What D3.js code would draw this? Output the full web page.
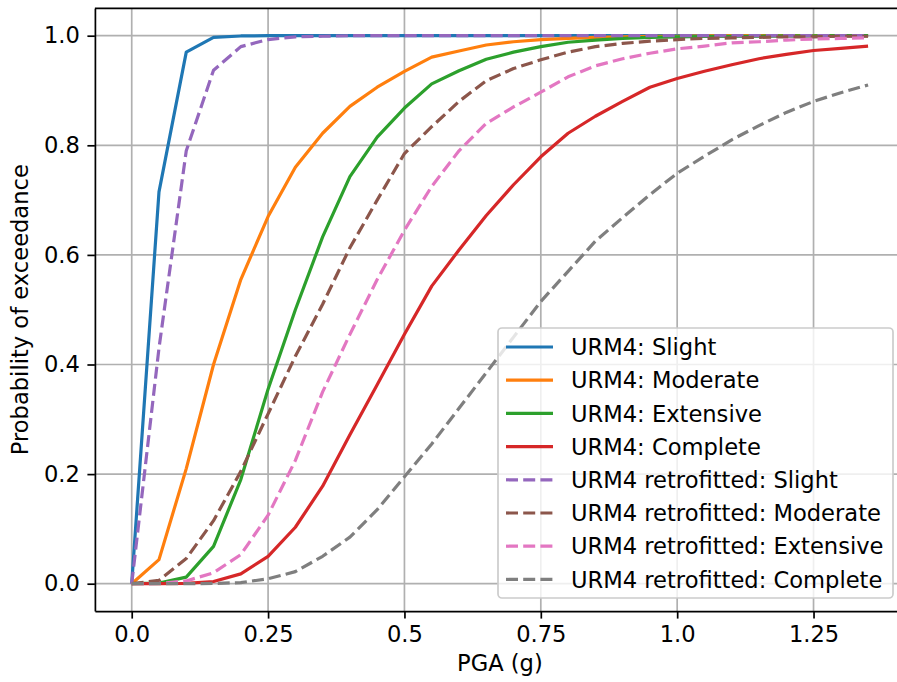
<!DOCTYPE html>
<html>
<head>
<meta charset="utf-8">
<script src="https://cdn.jsdelivr.net/npm/d3@7"></script>
<style>
  body { margin: 0; background: #fff; }
  svg { display: block; font-family: "DejaVu Sans", sans-serif; }
</style>
</head>
<body>
<div id="chart"></div>
<script>
// PGA-Stützstellen (g)
const pga = [0, 0.05, 0.1, 0.15, 0.2, 0.25, 0.3, 0.35, 0.4, 0.45, 0.5, 0.55, 0.6, 0.65,
             0.7, 0.75, 0.8, 0.85, 0.9, 0.95, 1.0, 1.05, 1.1, 1.15, 1.2, 1.25, 1.3, 1.35];

// Kurvenwerte
const urmSlight = [0, 0.715, 0.97, 0.997, 0.9995, 1, 1, 1, 1, 1, 1, 1, 1, 1,
                   1, 1, 1, 1, 1, 1, 1, 1, 1, 1, 1, 1, 1, 1];
const urmModerate = [0, 0.044, 0.21, 0.40, 0.555, 0.67, 0.76, 0.822, 0.871, 0.906, 0.935, 0.961, 0.972, 0.983,
                     0.989, 0.993, 0.995, 0.997, 0.998, 0.999, 0.999, 0.9995, 1, 1, 1, 1, 1, 1];
const urmExtensive = [0, 0.001, 0.012, 0.068, 0.19, 0.355, 0.50, 0.633, 0.743, 0.815, 0.868, 0.912, 0.936, 0.957,
                      0.97, 0.98, 0.988, 0.992, 0.995, 0.997, 0.998, 0.9985, 0.999, 0.999, 0.9995, 0.9995, 1, 1];
const urmComplete = [0, 0, 0.0005, 0.004, 0.018, 0.05, 0.103, 0.178, 0.272, 0.363, 0.455, 0.543, 0.609, 0.672,
                     0.728, 0.779, 0.822, 0.853, 0.88, 0.906, 0.922, 0.935, 0.947, 0.958, 0.966, 0.973, 0.977, 0.981];
const retroSlight = [0, 0.43, 0.79, 0.937, 0.98, 0.993, 0.998, 0.999, 1, 1, 1, 1, 1, 1,
                     1, 1, 1, 1, 1, 1, 1, 1, 1, 1, 1, 1, 1, 1];
const retroModerate = [0, 0.006, 0.046, 0.115, 0.205, 0.31, 0.415, 0.51, 0.613, 0.70, 0.785, 0.834, 0.88, 0.918,
                       0.94, 0.956, 0.97, 0.98, 0.986, 0.99, 0.993, 0.995, 0.996, 0.997, 0.998, 0.998, 0.999, 0.999];
const retroExtensive = [0, 0.0005, 0.005, 0.02, 0.053, 0.125, 0.225, 0.35, 0.455, 0.555, 0.645, 0.725, 0.79, 0.84,
                        0.87, 0.897, 0.925, 0.945, 0.958, 0.968, 0.976, 0.981, 0.987, 0.989, 0.992, 0.994, 0.995, 0.996];
const retroComplete = [0, 0, 0, 0.0005, 0.002, 0.009, 0.022, 0.05, 0.085, 0.135, 0.195, 0.255, 0.32, 0.385,
                       0.45, 0.515, 0.57, 0.625, 0.668, 0.71, 0.749, 0.78, 0.81, 0.836, 0.86, 0.88, 0.896, 0.91];

const seriesNames = ["URM4: Slight", "URM4: Moderate", "URM4: Extensive", "URM4: Complete",
                     "URM4 retrofitted: Slight", "URM4 retrofitted: Moderate",
                     "URM4 retrofitted: Extensive", "URM4 retrofitted: Complete"];
const seriesValues = [urmSlight, urmModerate, urmExtensive, urmComplete,
                      retroSlight, retroModerate, retroExtensive, retroComplete];
const colors = ["#1f77b4", "#ff7f0e", "#2ca02c", "#d62728", "#9467bd", "#8c564b", "#e377c2", "#7f7f7f"];
const dashed = [false, false, false, false, true, true, true, true];

const xTicks = [0, 0.25, 0.5, 0.75, 1.0, 1.25];
const xTickLabels = ["0.0", "0.25", "0.5", "0.75", "1.0", "1.25"];
const yTicks = [0, 0.2, 0.4, 0.6, 0.8, 1.0];

// Maße (Achsenfläche läuft rechts über den Bildrand hinaus)
const W = 897, H = 682;
const axLeft = 94.9, axRight = 904.9, axTop = 8.3, axBottom = 611.1;
const fs = 22.6;
const lw = 3.2;
const dash = "12,5.2";

const svg = d3.select("#chart").append("svg")
    .attr("width", W).attr("height", H);

const x = d3.scaleLinear().domain([-0.0675, 1.4175]).range([axLeft, axRight]);
const y = d3.scaleLinear().domain([-0.05, 1.05]).range([axBottom, axTop]);

svg.append("defs").append("clipPath").attr("id", "clip")
    .append("rect")
    .attr("x", axLeft).attr("y", axTop)
    .attr("width", axRight - axLeft).attr("height", axBottom - axTop);

// Gitter
const grid = svg.append("g");
grid.selectAll(".gx").data(xTicks).join("line")
    .attr("x1", d => x(d)).attr("x2", d => x(d))
    .attr("y1", axTop).attr("y2", axBottom)
    .attr("stroke", "#b0b0b0").attr("stroke-width", 1.7);
grid.selectAll(".gy").data(yTicks).join("line")
    .attr("x1", axLeft).attr("x2", axRight)
    .attr("y1", d => y(d)).attr("y2", d => y(d))
    .attr("stroke", "#b0b0b0").attr("stroke-width", 1.7);

// Kurven
const line = d3.line()
    .x((d, i) => x(pga[i]))
    .y(d => y(d));

const plot = svg.append("g").attr("clip-path", "url(#clip)");
seriesValues.forEach((vals, k) => {
    plot.append("path")
        .datum(vals)
        .attr("fill", "none")
        .attr("stroke", colors[k])
        .attr("stroke-width", lw)
        .attr("stroke-linejoin", "round")
        .attr("stroke-dasharray", dashed[k] ? dash : null)
        .attr("d", line);
});

// Achsen
const xAxis = svg.append("g")
    .attr("transform", `translate(0,${axBottom})`)
    .call(d3.axisBottom(x).tickValues(xTicks)
        .tickFormat((d, i) => xTickLabels[i])
        .tickSize(7.5).tickPadding(7.5).tickSizeOuter(0));
const yAxis = svg.append("g")
    .attr("transform", `translate(${axLeft},0)`)
    .call(d3.axisLeft(y).tickValues(yTicks)
        .tickFormat(d3.format(".1f"))
        .tickSize(7.5).tickPadding(7.5).tickSizeOuter(0));

[xAxis, yAxis].forEach(ax => {
    ax.select(".domain").attr("stroke", "#000").attr("stroke-width", 1.7);
    ax.selectAll(".tick line").attr("stroke", "#000").attr("stroke-width", 1.7);
    ax.selectAll(".tick text")
        .attr("fill", "#000")
        .style("font-size", fs + "px")
        .style("font-family", "DejaVu Sans, sans-serif");
});
// obere Achsenlinie
svg.append("line")
    .attr("x1", axLeft).attr("x2", axRight)
    .attr("y1", axTop).attr("y2", axTop)
    .attr("stroke", "#000").attr("stroke-width", 1.7);

// Achsenbeschriftungen
svg.append("text")
    .attr("x", (axLeft + axRight) / 2).attr("y", 671)
    .attr("text-anchor", "middle")
    .style("font-size", fs + "px")
    .text("PGA (g)");
svg.append("text")
    .attr("transform", `translate(28,${(axTop + axBottom) / 2}) rotate(-90)`)
    .attr("text-anchor", "middle")
    .style("font-size", fs + "px")
    .text("Probability of exceedance");

// Legende
const lgX = 498, lgY = 328, lgW = 395, lgH = 270;
const rowH = 33.2, firstRow = 347;
const legend = svg.append("g");
legend.append("rect")
    .attr("x", lgX).attr("y", lgY)
    .attr("width", lgW).attr("height", lgH)
    .attr("rx", 4).attr("ry", 4)
    .attr("fill", "#fff").attr("fill-opacity", 0.8)
    .attr("stroke", "#cccccc").attr("stroke-width", 1.7);

seriesNames.forEach((name, k) => {
    const cy = firstRow + k * rowH;
    legend.append("line")
        .attr("x1", 506).attr("x2", 553)
        .attr("y1", cy).attr("y2", cy)
        .attr("stroke", colors[k])
        .attr("stroke-width", lw)
        .attr("stroke-dasharray", dashed[k] ? dash : null);
    legend.append("text")
        .attr("x", 571).attr("y", cy)
        .attr("dy", "0.36em")
        .style("font-size", fs + "px")
        .attr("fill", "#000")
        .text(name);
});
</script>
</body>
</html>
